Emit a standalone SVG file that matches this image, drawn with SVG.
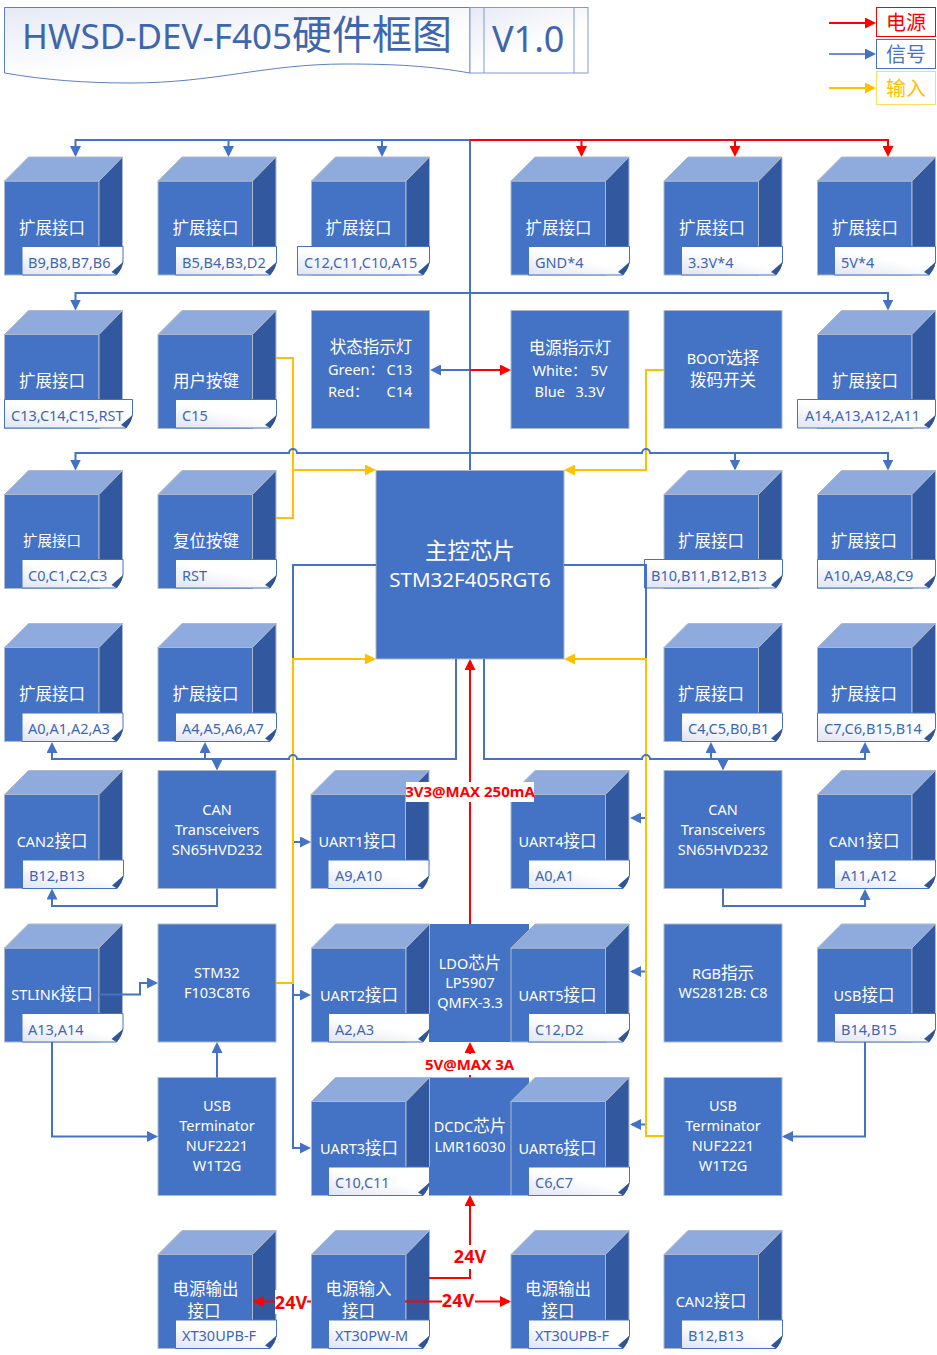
<svg xmlns="http://www.w3.org/2000/svg" width="937" height="1355" viewBox="0 0 937 1355">
<style>
text{font-family:"Noto Sans","Noto Sans CJK SC",sans-serif;font-size:14.5px;fill:#fff}
.m{text-anchor:middle}
.c{font-size:16.5px}
.l{font-size:14.5px}
.t{fill:#3f66b5}
.n{fill:#4472c4}
.rc{fill:#4472c4;stroke:#adb9ca;stroke-width:1}
.tp{fill:#8faadc;stroke:#adb9ca;stroke-width:1}
.sd{fill:#3259a0;stroke:#adb9ca;stroke-width:1}
.nf{fill:url(#ng);stroke:#4472c4;stroke-width:1}
.fd{fill:#2f5597}
.b,.r,.y{fill:none;stroke-width:2}
.b{stroke:#4472c4}.r{stroke:#f00}.y{stroke:#ffc000}
.ba{marker-end:url(#ab)}.ra{marker-end:url(#ar)}.ya{marker-end:url(#ay)}
.lb{font-weight:700;fill:#f00;font-size:15px;text-anchor:middle}
.lv{font-weight:700;fill:#f00;font-size:18px;text-anchor:middle}
</style>
<defs>
<linearGradient id="ng" x1="0" y1="1" x2="0.75" y2="0"><stop offset="0" stop-color="#dfe4f2"/><stop offset="0.6" stop-color="#fff"/></linearGradient>
<linearGradient id="tg" x1="0" y1="0" x2="0.6" y2="1"><stop offset="0" stop-color="#e6eaf5"/><stop offset="0.7" stop-color="#fff"/></linearGradient>
<marker id="ab" markerUnits="userSpaceOnUse" markerWidth="11" markerHeight="11" viewBox="0 0 11 11" refX="9" refY="5.5" orient="auto"><path d="M0 0L11 5.5L0 11Z" fill="#4472c4"/></marker>
<marker id="ar" markerUnits="userSpaceOnUse" markerWidth="11" markerHeight="11" viewBox="0 0 11 11" refX="9" refY="5.5" orient="auto"><path d="M0 0L11 5.5L0 11Z" fill="#f00"/></marker>
<marker id="ay" markerUnits="userSpaceOnUse" markerWidth="11" markerHeight="11" viewBox="0 0 11 11" refX="9" refY="5.5" orient="auto"><path d="M0 0L11 5.5L0 11Z" fill="#ffc000"/></marker>
<g id="cube"><rect class="rc" x="0" y="24" width="94.5" height="94"/><path class="tp" d="M0 24L24 0H118L94.5 24Z"/><path class="sd" d="M94.5 24L118 0V95L94.5 118Z"/></g>
<g id="box"><rect class="rc" x="0" y="0" width="118" height="118"/></g>
<g id="n101"><path class="nf" d="M0 0H101V15.5Q99 23 94.5 28.5H0Z"/><path class="fd" d="M101 15.5L89.500 25.5L94.5 28.5Q100 23 101 15.5Z"/></g>
<g id="n118"><path class="nf" d="M0 0H118V15.5Q116 23 111.500 28.5H0Z"/><path class="fd" d="M118 15.5L106.500 25.5L111.500 28.5Q117 23 118 15.5Z"/></g>
<g id="n128"><path class="nf" d="M0 0H128V15.5Q126 23 121.500 28.5H0Z"/><path class="fd" d="M128 15.5L116.500 25.5L121.500 28.5Q127 23 128 15.5Z"/></g>
<g id="n132"><path class="nf" d="M0 0H132V15.5Q130 23 125.500 28.5H0Z"/><path class="fd" d="M132 15.5L120.500 25.5L125.500 28.5Q131 23 132 15.5Z"/></g>
<g id="n138"><path class="nf" d="M0 0H138V15.5Q136 23 131.500 28.5H0Z"/><path class="fd" d="M138 15.5L126.500 25.5L131.500 28.5Q137 23 138 15.5Z"/></g>
</defs>
<g id="title">
<path d="M4.500 7.500H470V73C430 66 395 64 345 64C265 64 215 83 130 83C85 83 45 80 4.500 73Z" fill="url(#tg)" stroke="#5b7fc4" stroke-width="1"/>
<rect x="470" y="7.500" width="118" height="65.500" fill="url(#tg)" stroke="#7d9bd2" stroke-width="1"/>
<path d="M484 7.500V73M574 7.500V73" fill="none" stroke="#7d9bd2" stroke-width="1"/>
<text x="22" y="49" style="font-size:35px;fill:#3f66ad">HWSD-DEV-F405<tspan style="font-size:40px">硬件框图</tspan></text>
<text x="492" y="52" style="font-size:36px;fill:#3f66ad">V1.0</text>
</g>
<g id="legend">
<rect x="876.500" y="7.500" width="59" height="29" fill="#fff" stroke="#f00"/>
<text x="906" y="30" class="m" style="font-size:20px;fill:#f00">电源</text>
<rect x="876.500" y="39.500" width="59" height="29" fill="#fff" stroke="#4472c4"/>
<text x="906" y="62" class="m" style="font-size:20px;fill:#4472c4">信号</text>
<rect x="876.500" y="71.500" width="59" height="33" fill="#fff" stroke="#ffd966"/>
<text x="906" y="96" class="m" style="font-size:20px;fill:#ffc000">输入</text>
</g>
<g id="n-r1-1"><use href="#cube" x="4.500" y="157"/><use href="#n101" x="22" y="246.500"/><text class="m c" x="52" y="233.500">扩展接口</text><text class="t" x="28" y="267.500">B9,B8,B7,B6</text></g>
<g id="n-r1-2"><use href="#cube" x="158" y="157"/><use href="#n101" x="175.500" y="246.500"/><text class="m c" x="205.500" y="233.500">扩展接口</text><text class="t" x="182" y="267.500">B5,B4,B3,D2</text></g>
<g id="n-r1-3"><use href="#cube" x="311.500" y="157"/><use href="#n132" x="297.500" y="246.500"/><text class="m c" x="358.500" y="233.500">扩展接口</text><text class="t" x="304" y="267.500">C12,C11,C10,A15</text></g>
<g id="n-r1-4"><use href="#cube" x="511" y="157"/><use href="#n101" x="528.500" y="246.500"/><text class="m c" x="558.500" y="233.500">扩展接口</text><text class="t" x="535" y="267.500">GND*4</text></g>
<g id="n-r1-5"><use href="#cube" x="664" y="157"/><use href="#n101" x="681.500" y="246.500"/><text class="m c" x="712" y="233.500">扩展接口</text><text class="t" x="688" y="267.500">3.3V*4</text></g>
<g id="n-r1-6"><use href="#cube" x="817.500" y="157"/><use href="#n101" x="834.500" y="246.500"/><text class="m c" x="865" y="233.500">扩展接口</text><text class="t" x="841" y="267.500">5V*4</text></g>

<g id="n-r2-1"><use href="#cube" x="4.500" y="310.500"/><use href="#n128" x="4.500" y="399.500"/><text class="m c" x="52" y="387">扩展接口</text><text class="t" x="11" y="420.500">C13,C14,C15,RST</text></g>
<g id="n-user"><use href="#cube" x="158" y="310.500"/><use href="#n101" x="175.500" y="399.500"/><text class="m c" x="206" y="387">用户按键</text><text class="t" x="182" y="420.500">C15</text></g>
<g id="n-status"><use href="#box" x="311.500" y="310.500"/><text class="m c" x="371" y="352.500">状态指示灯</text><text x="328" y="375">Green：</text><text x="386.500" y="375">C13</text><text x="328" y="397">Red：</text><text x="386.500" y="397">C14</text></g>
<g id="n-power"><use href="#box" x="511" y="310.500"/><text class="m c" x="570" y="353.500">电源指示灯</text><text x="532.500" y="376">White：</text><text x="590.500" y="376">5V</text><text x="534.500" y="397">Blue</text><text x="575.500" y="397">3.3V</text></g>
<g id="n-boot"><use href="#box" x="664" y="310.500"/><text class="m c" x="723" y="364"><tspan class="l">BOOT</tspan>选择</text><text class="m c" x="723" y="386">拨码开关</text></g>
<g id="n-r2-6"><use href="#cube" x="817.500" y="310.500"/><use href="#n138" x="797.500" y="399.500"/><text class="m c" x="865" y="387">扩展接口</text><text class="t" x="805" y="420.500">A14,A13,A12,A11</text></g>

<g id="n-r3-1"><use href="#cube" x="4.500" y="470.500"/><use href="#n101" x="22" y="559.500"/><text class="m" x="52" y="546">扩展接口</text><text class="t" x="28" y="580.500">C0,C1,C2,C3</text></g>
<g id="n-reset"><use href="#cube" x="158" y="470.500"/><use href="#n101" x="175.500" y="559.500"/><text class="m c" x="206" y="547">复位按键</text><text class="t" x="182" y="580.500">RST</text></g>
<g id="n-main"><rect class="rc" x="376" y="470.500" width="188" height="188.500"/><text class="m" x="470" y="559" style="font-size:22.500px">主控芯片</text><text class="m" x="470" y="586.500" style="font-size:20.500px">STM32F405RGT6</text></g>
<g id="n-r3-5"><use href="#cube" x="664" y="470.500"/><use href="#n138" x="644.500" y="559.500"/><text class="m c" x="711" y="547">扩展接口</text><text class="t" x="651" y="580.500">B10,B11,B12,B13</text></g>
<g id="n-r3-6"><use href="#cube" x="817.500" y="470.500"/><use href="#n118" x="817.500" y="559.500"/><text class="m c" x="864" y="547">扩展接口</text><text class="t" x="824" y="580.500">A10,A9,A8,C9</text></g>

<g id="n-r4-1"><use href="#cube" x="4.500" y="623.500"/><use href="#n101" x="22" y="713"/><text class="m c" x="52" y="700">扩展接口</text><text class="t" x="28" y="733.500">A0,A1,A2,A3</text></g>
<g id="n-r4-2"><use href="#cube" x="158" y="623.500"/><use href="#n101" x="175.500" y="713"/><text class="m c" x="205.500" y="700">扩展接口</text><text class="t" x="182" y="733.500">A4,A5,A6,A7</text></g>
<g id="n-r4-5"><use href="#cube" x="664" y="623.500"/><use href="#n101" x="681.500" y="713"/><text class="m c" x="711" y="700">扩展接口</text><text class="t" x="688" y="733.500">C4,C5,B0,B1</text></g>
<g id="n-r4-6"><use href="#cube" x="817.500" y="623.500"/><use href="#n118" x="817.500" y="713"/><text class="m c" x="864" y="700">扩展接口</text><text class="t" x="824" y="733.500">C7,C6,B15,B14</text></g>

<g id="n-can2a"><use href="#cube" x="4.500" y="770.500"/><use href="#n101" x="22.500" y="860"/><text class="m c" x="52" y="847"><tspan class="l">CAN2</tspan>接口</text><text class="t" x="29" y="880.500">B12,B13</text></g>
<g id="n-cantl"><use href="#box" x="158" y="770.500"/><text class="m" x="217" y="815">CAN</text><text class="m" x="217" y="835">Transceivers</text><text class="m" x="217" y="855">SN65HVD232</text></g>
<g id="n-uart1"><use href="#cube" x="311" y="770.500"/><use href="#n101" x="328" y="860"/><text class="m c" x="357.500" y="847"><tspan class="l">UART1</tspan>接口</text><text class="t" x="335" y="880.500">A9,A10</text></g>
<g id="n-uart4"><use href="#cube" x="511" y="770.500"/><use href="#n101" x="528.500" y="860"/><text class="m c" x="557.500" y="847"><tspan class="l">UART4</tspan>接口</text><text class="t" x="535" y="880.500">A0,A1</text></g>
<g id="n-cantr"><use href="#box" x="664" y="770.500"/><text class="m" x="723" y="815">CAN</text><text class="m" x="723" y="835">Transceivers</text><text class="m" x="723" y="855">SN65HVD232</text></g>
<g id="n-can1"><use href="#cube" x="817.500" y="770.500"/><use href="#n101" x="834.500" y="860"/><text class="m c" x="864" y="847"><tspan class="l">CAN1</tspan>接口</text><text class="t" x="841" y="880.500">A11,A12</text></g>

<g id="n-stlink"><use href="#cube" x="4.500" y="924"/><use href="#n101" x="22" y="1013.500"/><text class="m c" x="52" y="1000"><tspan class="l">STLINK</tspan>接口</text><text class="t" x="28" y="1034.500">A13,A14</text></g>
<g id="n-f103"><use href="#box" x="158" y="924"/><text class="m" x="217" y="978">STM32</text><text class="m" x="217" y="998">F103C8T6</text></g>
<g id="n-ldo"><rect class="n" x="429" y="924" width="100" height="118"/><text class="m c" x="470" y="969"><tspan class="l">LDO</tspan>芯片</text><text class="m" x="470" y="988">LP5907</text><text class="m" x="470" y="1008">QMFX-3.3</text></g>
<g id="n-uart2"><use href="#cube" x="311.500" y="924"/><use href="#n101" x="328.500" y="1013.500"/><text class="m c" x="359" y="1000.500"><tspan class="l">UART2</tspan>接口</text><text class="t" x="335" y="1034.500">A2,A3</text></g>
<g id="n-uart5"><use href="#cube" x="511" y="924"/><use href="#n101" x="528.500" y="1013.500"/><text class="m c" x="557.500" y="1000.500"><tspan class="l">UART5</tspan>接口</text><text class="t" x="535" y="1034.500">C12,D2</text></g>
<g id="n-rgb"><use href="#box" x="664" y="924"/><text class="m c" x="723" y="979"><tspan class="l">RGB</tspan>指示</text><text class="m" x="723" y="998">WS2812B: C8</text></g>
<g id="n-usb"><use href="#cube" x="817.500" y="924"/><use href="#n101" x="834.500" y="1013.500"/><text class="m c" x="864" y="1000.500"><tspan class="l">USB</tspan>接口</text><text class="t" x="841" y="1034.500">B14,B15</text></g>

<g id="n-usbtl"><use href="#box" x="158" y="1077.500"/><text class="m" x="217" y="1111">USB</text><text class="m" x="217" y="1131">Terminator</text><text class="m" x="217" y="1151">NUF2221</text><text class="m" x="217" y="1171">W1T2G</text></g>
<g id="n-dcdc"><rect class="n" x="429" y="1077.500" width="100" height="118"/><text class="m c" x="470" y="1132"><tspan class="l">DCDC</tspan>芯片</text><text class="m" x="470" y="1152">LMR16030</text></g>
<g id="n-uart3"><use href="#cube" x="311.500" y="1077.500"/><use href="#n101" x="328.500" y="1167"/><text class="m c" x="359" y="1154"><tspan class="l">UART3</tspan>接口</text><text class="t" x="335" y="1187.500">C10,C11</text></g>
<g id="n-uart6"><use href="#cube" x="511" y="1077.500"/><use href="#n101" x="528.500" y="1167"/><text class="m c" x="557.500" y="1154"><tspan class="l">UART6</tspan>接口</text><text class="t" x="535" y="1187.500">C6,C7</text></g>
<g id="n-usbtr"><use href="#box" x="664" y="1077.500"/><text class="m" x="723" y="1111">USB</text><text class="m" x="723" y="1131">Terminator</text><text class="m" x="723" y="1151">NUF2221</text><text class="m" x="723" y="1171">W1T2G</text></g>

<g id="n-pout1"><use href="#cube" x="158" y="1230.500"/><use href="#n101" x="175.500" y="1320"/><text class="m c" x="205.500" y="1295">电源输出</text><text class="m c" x="204" y="1317">接口</text><text class="t" x="182" y="1341">XT30UPB-F</text></g>
<g id="n-pin"><use href="#cube" x="311.500" y="1230.500"/><use href="#n101" x="328.500" y="1320"/><text class="m c" x="358.500" y="1295">电源输入</text><text class="m c" x="358.500" y="1317">接口</text><text class="t" x="335" y="1341">XT30PW-M</text></g>
<g id="n-pout2"><use href="#cube" x="511" y="1230.500"/><use href="#n101" x="528.500" y="1320"/><text class="m c" x="558" y="1295">电源输出</text><text class="m c" x="558" y="1317">接口</text><text class="t" x="535" y="1341">XT30UPB-F</text></g>
<g id="n-can2b"><use href="#cube" x="664" y="1230.500"/><use href="#n101" x="681.500" y="1320"/><text class="m c" x="711" y="1307"><tspan class="l">CAN2</tspan>接口</text><text class="t" x="688" y="1341">B12,B13</text></g>

<g id="connectors">
<path class="r ra" d="M829 23H874"/><path class="b ba" d="M829 54H874" style="stroke:#6a8fd0"/><path class="y ya" d="M829 88H874"/>
<path class="b" d="M470 470V140"/>
<path class="b ba" d="M470 140H75.500V155"/><path class="b ba" d="M228.500 140V155"/><path class="b ba" d="M382 140V155"/>
<path class="r ra" d="M470 140H888V155"/><path class="r ra" d="M581.500 140V155"/><path class="r ra" d="M735 140V155"/>
<path class="b ba" d="M470 293H75.500V308.500"/><path class="b ba" d="M470 293H888V308.500"/>
<path class="b ba" d="M470 370H432"/><path class="r ra" d="M470 370H509"/>
<path class="y" d="M276 358H293V518H276"/><path class="y ya" d="M293 470H374"/>
<path class="y ya" d="M664 370H646V470H566"/>
<path class="b ba" d="M470 453H297A4 4 0 0 0 289 453H75.500V468.500"/>
<path class="b ba" d="M470 453H642A4 4 0 0 1 650 453H888V468.500"/><path class="b ba" d="M735 453V468.500"/>
<path class="b ba" d="M376 565H293V1148H309"/><path class="b ba" d="M293 842H309"/><path class="b ba" d="M293 995H309"/>
<path class="b ba" d="M564 565H646V1124.500H632"/><path class="b ba" d="M646 818H632"/><path class="b ba" d="M646 971.500H632"/>
<path class="y ya" d="M276 983H293V659H374"/><path class="y ya" d="M664 1136H646V659H566"/>
<path class="b ba" d="M456 659V759H297A4 4 0 0 0 289 759H52V744"/><path class="b ba" d="M205 759V744"/><path class="b ba" d="M217 759V768.500"/>
<path class="b ba" d="M484 659V759H642A4 4 0 0 1 650 759H865V744"/><path class="b ba" d="M711 759V744"/><path class="b ba" d="M723 759V768.500"/>
<path class="b ba" d="M217 888.500V906H52V890.500"/><path class="b ba" d="M723 888.500V906H865V891"/>
<path class="b ba" d="M99 994.500H140V983H156"/><path class="b ba" d="M52 1042V1136.500H156"/>
<path class="b ba" d="M217 1077.500V1044"/><path class="b ba" d="M865 1042V1136.500H784"/>
<path class="r ra" d="M470 924V661"/>
<rect x="406" y="782" width="128" height="20" fill="#fff"/><text class="lb" x="470" y="797">3V3@MAX 250mA</text>
<path class="r ra" d="M470 1077.500V1044"/>
<rect x="424" y="1054" width="91" height="21" fill="#fff"/><text class="lb" x="469.500" y="1069.500">5V@MAX 3A</text>
<path class="r ra" d="M429 1278H470V1197"/>
<rect x="453" y="1245" width="34" height="24" fill="#fff"/><text class="lv" x="470" y="1263">24V</text>
<path class="r ra" d="M311 1301.500H254.500"/>
<rect x="275" y="1290" width="32" height="24" fill="#fff"/><text class="lv" x="291" y="1308.500">24V</text>
<path class="r ra" d="M405 1301.500H509"/>
<rect x="442" y="1290" width="33" height="24" fill="#fff"/><text class="lv" x="458" y="1307">24V</text>
</g>
</svg>
